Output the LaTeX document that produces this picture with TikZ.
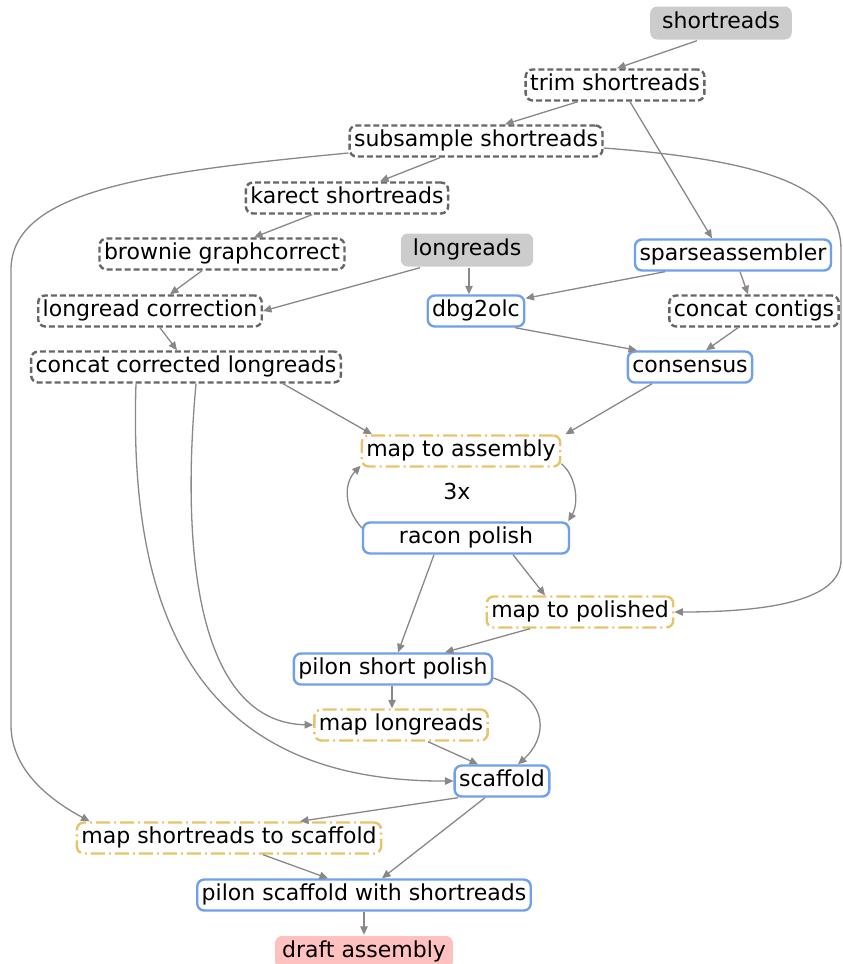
\documentclass[tikz,border=0pt]{standalone}
\usepackage{fontspec}
\setmainfont{DejaVu Sans}
\usetikzlibrary{arrows.meta}
\definecolor{edgegray}{HTML}{888888}
\definecolor{rulegray}{HTML}{666666}
\definecolor{procblue}{HTML}{6FA0EE}
\definecolor{mapyellow}{HTML}{E8C36A}
\definecolor{srcgray}{HTML}{CCCCCC}
\definecolor{outpink}{HTML}{FFC0C0}

\begin{document}
\begin{tikzpicture}[x=1pt,y=-1pt,
    box/.style={rounded corners=7pt, line width=2.4pt, minimum height=31pt, inner xsep=4.5pt, inner ysep=0pt,
        text height=16pt, text depth=5pt, font=\fontsize{22}{24}\selectfont},
    srcnode/.style={box, fill=srcgray, draw=none, inner xsep=12pt, minimum height=33pt},
    outnode/.style={box, fill=outpink, draw=none, inner xsep=7pt, minimum height=32pt},
    aux/.style={box, draw=rulegray, dash pattern=on 6pt off 3pt},
    proc/.style={box, draw=procblue},
    mapnode/.style={box, draw=mapyellow, dash pattern=on 14pt off 4pt on 2pt off 4pt},
    edge/.style={draw=edgegray, line width=1.3pt, -{Triangle[length=8.5pt,width=7.5pt]}}]
    \useasboundingbox (0,0) rectangle (843,964);

    \node[srcnode] (sr) at (721,23) {shortreads};
    \node[aux] (trim) at (615,85) {trim shortreads};
    \node[aux] (sub) at (476,141) {subsample shortreads};
    \node[aux] (karect) at (347,198) {karect shortreads};
    \node[aux] (brownie) at (222,254) {brownie graphcorrect};
    \node[srcnode] (lr) at (467,250) {longreads};
    \node[proc] (sparse) at (733,255) {sparseassembler};
    \node[aux] (lrc) at (150,311) {longread correction};
    \node[proc] (dbg) at (476,311) {dbg2olc};
    \node[aux] (ccont) at (754,311) {concat contigs};
    \node[aux] (ccl) at (186,367) {concat corrected longreads};
    \node[proc] (cons) at (690,367) {consensus};
    \node[mapnode] (mta) at (461,451) {map to assembly};
    \node[box, draw=none] (rounds) at (457,494) {3x};
    \node[proc, minimum width=206pt] (racon) at (466,538) {racon polish};
    \node[mapnode] (mtp) at (580,612) {map to polished};
    \node[proc] (psp) at (393,669) {pilon short polish};
    \node[mapnode] (ml) at (401,725) {map longreads};
    \node[proc] (scaf) at (502,781) {scaffold};
    \node[mapnode] (mss) at (229,838) {map shortreads to scaffold};
    \node[proc] (psw) at (364,895) {pilon scaffold with shortreads};
    \node[outnode] (draft) at (364,952) {draft assembly};

    \draw[edge] ([xshift=-24pt]sr.south) -- ([xshift=2pt]trim.north);
    \draw[edge] ([xshift=-37pt]trim.south) -- ([xshift=29pt]sub.north);
    \draw[edge] ([xshift=15pt]trim.south) -- ([xshift=-21pt]sparse.north);
    \draw[edge] ([xshift=-36pt]sub.south) -- ([xshift=33pt]karect.north);
    \draw[edge] ([xshift=-35pt]karect.south) -- ([xshift=32pt]brownie.north);
    \draw[edge] ([xshift=-20pt]brownie.south) -- ([xshift=20pt]lrc.north);
    \draw[edge] ([xshift=-47pt]lr.south) -- (lrc.east);
    \draw[edge] ([xshift=2pt]lr.south) -- ([xshift=-7pt]dbg.north);
    \draw[edge] ([xshift=-68pt]sparse.south) -- ([yshift=-4pt]dbg.north east);
    \draw[edge] ([xshift=7pt]sparse.south) -- ([xshift=-6pt]ccont.north);
    \draw[edge] ([xshift=10pt]lrc.south) -- ([xshift=-9pt]ccl.north);
    \draw[edge] ([xshift=39pt]dbg.south) -- ([xshift=-53pt]cons.north);
    \draw[edge] ([xshift=-16pt]ccont.south) -- ([xshift=16pt]cons.north);
    \draw[edge] ([xshift=97pt]ccl.south) -- ([xshift=-89pt]mta.north);
    \draw[edge] ([xshift=-38pt]cons.south) -- ([xshift=4pt]mta.north east);
    \draw[edge] ([yshift=4pt]mta.south east) .. controls (578,478) and (578,505) .. ([xshift=-2pt]racon.north east);
    \draw[edge] ([yshift=10pt]racon.west) .. controls (342,505) and (345,482) .. ([yshift=2pt]mta.south west);
    \draw[edge] ([xshift=47pt]racon.south) -- ([xshift=-35pt]mtp.north);
    \draw[edge] ([xshift=-32pt]racon.south) -- ([xshift=5pt]psp.north);
    \draw[edge] ([xshift=-50pt]mtp.south) -- ([xshift=52pt]psp.north);
    \draw[edge] ([xshift=-1pt]psp.south) -- ([xshift=-9pt]ml.north);
    \draw[edge] ([yshift=-9pt]psp.east) .. controls (555,700) and (545,740) .. ([xshift=16pt]scaf.north);
    \draw[edge] ([xshift=27pt]ml.south) -- ([xshift=-24pt]scaf.north);
    \draw[edge] ([xshift=10pt]ccl.south) .. controls (180,560) and (200,722) .. (ml.west);
    \draw[edge] ([xshift=-50pt]ccl.south) .. controls (128,620) and (200,782) .. (scaf.west);
    \draw[edge] ([xshift=-44pt]scaf.south) -- ([xshift=71pt]mss.north);
    \draw[edge] ([xshift=-17pt]scaf.south) -- ([xshift=18pt]psw.north);
    \draw[edge] ([xshift=34pt]mss.south) -- ([xshift=-36pt]psw.north);
    \draw[edge] (psw.south) -- (draft.north);
    \draw[edge] ([yshift=-12pt]sub.west) .. controls (150,172) and (11,190) .. (11,270)
        -- (11,725) .. controls (11,770) and (50,800) .. ([xshift=14pt]mss.north west);
    \draw[edge] ([yshift=-7pt]sub.east) .. controls (790,162) and (841,195) .. (841,250)
        -- (841,560) .. controls (841,600) and (770,612) .. (mtp.east);
\end{tikzpicture}
\end{document}
